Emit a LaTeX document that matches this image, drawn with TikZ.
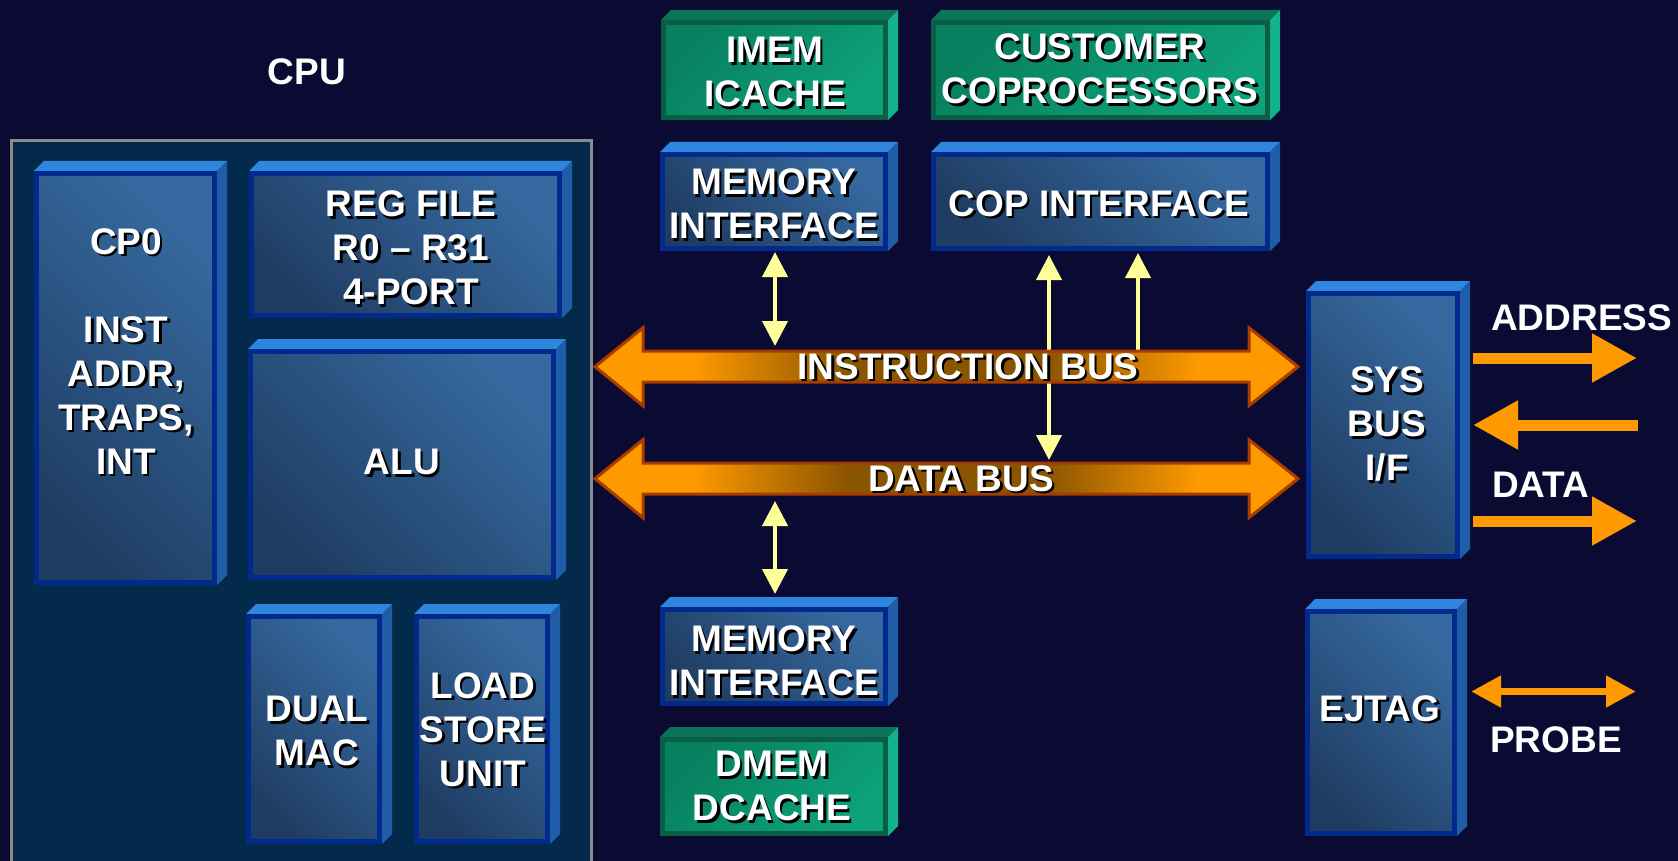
\documentclass[tikz,border=0pt]{standalone}
\usepackage{fontspec}
\setmainfont{Liberation Sans}
\usetikzlibrary{arrows.meta}

\definecolor{bg}{HTML}{0A0A33}
\definecolor{panel}{HTML}{032A4A}
\definecolor{panelrim}{HTML}{8C8C8C}
\definecolor{bluetop}{HTML}{2E86DE}
\definecolor{blueside}{HTML}{1F5DA6}
\definecolor{bluerim}{HTML}{022A8C}
\definecolor{bluehi}{HTML}{36699F}
\definecolor{bluelo}{HTML}{1F3D63}
\definecolor{greentop}{HTML}{0A7458}
\definecolor{greenside}{HTML}{12B38C}
\definecolor{greenrim}{HTML}{0A5E46}
\definecolor{greenhi}{HTML}{0DA27B}
\definecolor{greenlo}{HTML}{08805F}
\definecolor{busor}{HTML}{FF9900}
\definecolor{busdk}{HTML}{8A5500}
\definecolor{busrim}{HTML}{A83C00}
\definecolor{sig}{HTML}{FFFF99}
\definecolor{pin}{HTML}{FF9900}

% orange at both ends, dark brown in the middle of the bus
\pgfdeclarehorizontalshading{busshade}{100bp}{color(0bp)=(busor); color(25bp)=(busor); color(32bp)=(busor); color(43bp)=(busdk); color(57bp)=(busdk); color(68bp)=(busor); color(75bp)=(busor); color(100bp)=(busor)}

\tikzset{
  blueface/.style={draw=bluerim, line width=5pt, top color=bluehi, bottom color=bluelo, shading angle=-45, inner sep=0pt},
  greenface/.style={draw=greenrim, line width=5pt, top color=greenlo, bottom color=greenhi, shading angle=45, inner sep=0pt},
  boxtext/.style={font=\fontsize{37}{44}\selectfont\bfseries, text=white, align=center, inner sep=0pt},
  boxshadow/.style={boxtext, text=black},
  plaintext/.style={font=\fontsize{37}{44}\selectfont\bfseries, text=white, inner sep=0pt},
  bus/.style={shading=busshade, draw=busrim, line width=3pt, line join=miter},
  sigboth/.style={draw=sig, line width=4pt, {Triangle[length=25pt,width=25pt]}-{Triangle[length=25pt,width=25pt]}},
  sigone/.style={draw=sig, line width=4pt, -{Triangle[length=25pt,width=25pt]}},
  pinwide/.style={draw=pin, line width=11pt, -{Triangle[length=45pt,width=46pt]}},
  pinthin/.style={draw=pin, line width=7.5pt, {Triangle[length=30pt,width=30pt]}-{Triangle[length=30pt,width=30pt]}},
}

% 3-D block: name, colour family, outer edges of the front face x0,y0,x1,y1
\newcommand\cubebox[6]{%
  \fill[#2top] (#3,#4) -- (#3+10,#4-10) -- (#5+10,#4-10) -- (#5,#4) -- cycle;
  \fill[#2side] (#5,#4) -- (#5+10,#4-10) -- (#5+10,#6-10) -- (#5,#6) -- cycle;
  \node[#2face, minimum width=#5-#3-5, minimum height=#6-#4-5] (#1) at ({(#3+#5)/2},{(#4+#6)/2}) {};
}
% white label with a dark drop shadow
\newcommand\boxlabel[4]{%
  \node[boxshadow] (#1-sh) at (#2+2.5,#3+2.5) {#4};
  \node[boxtext] (#1) at (#2,#3) {#4};
}

\begin{document}
\begin{tikzpicture}[x=1pt,y=-1pt]
\useasboundingbox (0,0) rectangle (1678,861);
\fill[bg] (0,0) rectangle (1678,861);

% CPU panel
\draw[panelrim, line width=3pt, fill=panel] (11,141) rectangle (591,885);
\node[plaintext] (cpu) at (307,72) {CPU};

% CPU blocks
\cubebox{cp0}{blue}{34}{171}{217}{585}
\cubebox{reg}{blue}{249}{171}{562}{318}
\cubebox{alu}{blue}{248}{349}{556}{580}
\cubebox{mac}{blue}{246}{614}{382}{844}
\cubebox{lsu}{blue}{414}{614}{550}{844}

% memories and interfaces
\cubebox{imem}{green}{661}{20}{888}{120}
\cubebox{cust}{green}{931}{20}{1270}{120}
\cubebox{memi}{blue}{660}{152}{888}{251}
\cubebox{cop}{blue}{931}{152}{1270}{251}
\cubebox{memd}{blue}{660}{607}{888}{706}
\cubebox{dmem}{green}{660}{737}{888}{836}
\cubebox{sys}{blue}{1306}{291}{1460}{559}
\cubebox{ejtag}{blue}{1305}{609}{1457}{836}

% signal ends
\coordinate (mi-a) at (775,252);
\coordinate (mi-b) at (775,346);
\coordinate (cop-a) at (1049,255);
\coordinate (cop-b) at (1049,460);
\coordinate (cop-c) at (1138,356);
\coordinate (cop-d) at (1138,253);
\coordinate (md-a) at (775,501);
\coordinate (md-b) at (775,594);

\draw[sigboth] (mi-a) -- (mi-b);
\draw[sigboth] (cop-a) -- (cop-b);
\draw[sigone] (cop-c) -- (cop-d);
\draw[sigboth] (md-a) -- (md-b);

% instruction bus and data bus
\foreach \cy in {366.7,478.7}{
  \shadedraw[bus] (595,\cy) -- (643,\cy-39) -- (643,\cy-15.5) -- (1249,\cy-15.5) -- (1249,\cy-39)
    -- (1298,\cy) -- (1249,\cy+39) -- (1249,\cy+15.5) -- (643,\cy+15.5) -- (643,\cy+39) -- cycle;
}

% block labels
\boxlabel{cp0-t}{126}{351.5}{CP0\\[44pt]INST\\ADDR,\\TRAPS,\\INT}
\boxlabel{reg-t}{411}{248}{REG FILE\\R0 – R31\\4-PORT}
\boxlabel{alu-t}{402}{462}{ALU}
\boxlabel{mac-t}{317}{731}{DUAL\\MAC}
\boxlabel{lsu-t}{483}{729.5}{LOAD\\STORE\\UNIT}
\boxlabel{imem-t}{775}{72}{IMEM\\ICACHE}
\boxlabel{cust-t}{1100}{69}{CUSTOMER\\COPROCESSORS}
\boxlabel{memi-t}{774}{204}{MEMORY\\INTERFACE}
\boxlabel{cop-t}{1099}{203.5}{COP INTERFACE}
\boxlabel{memd-t}{774}{661}{MEMORY\\INTERFACE}
\boxlabel{dmem-t}{772}{786}{DMEM\\DCACHE}
\boxlabel{sys-t}{1387}{424}{SYS\\BUS\\I/F}
\boxlabel{ejtag-t}{1380}{708.5}{EJTAG}
\boxlabel{ibus-t}{968}{366.7}{INSTRUCTION BUS}
\boxlabel{dbus-t}{961}{478.7}{DATA BUS}

% system bus pins
\coordinate (ad-a) at (1473,358);
\coordinate (ad-b) at (1637,358);
\coordinate (rt-a) at (1638,425);
\coordinate (rt-b) at (1473,425);
\coordinate (dt-a) at (1473,521);
\coordinate (dt-b) at (1637,521);
\coordinate (pr-a) at (1471,691.5);
\coordinate (pr-b) at (1636,691.5);

\draw[pinwide] (ad-a) -- (ad-b);
\draw[pinwide] (rt-a) -- (rt-b);
\draw[pinwide] (dt-a) -- (dt-b);
\draw[pinthin] (pr-a) -- (pr-b);

\node[plaintext, anchor=west] (addr) at (1491,318) {ADDRESS};
\node[plaintext, anchor=west] (data) at (1492,485) {DATA};
\node[plaintext, anchor=west] (probe) at (1490,740) {PROBE};
\end{tikzpicture}
\end{document}
